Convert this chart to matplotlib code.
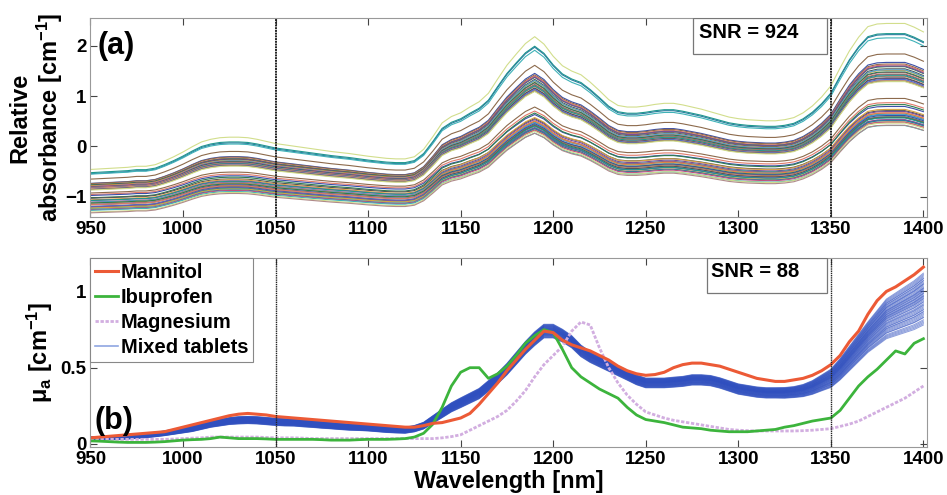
import numpy as np
import matplotlib.pyplot as plt
from matplotlib.patches import Rectangle

plt.rcParams['font.family'] = ['Liberation Sans', 'DejaVu Sans']
plt.rcParams['font.weight'] = 'bold'
plt.rcParams['mathtext.fontset'] = 'custom'
plt.rcParams['mathtext.rm'] = 'Liberation Sans:bold'
plt.rcParams['mathtext.it'] = 'Liberation Sans:bold'
plt.rcParams['mathtext.bf'] = 'Liberation Sans:bold'

# wavelength grid [nm]
wavelength = np.arange(950, 1401, 5)

# (a) reference spectrum (upper teal trace)
top_reference = [-0.52, -0.51, -0.50, -0.49, -0.48, -0.46, -0.46, -0.43, -0.36, -0.28,
                 -0.19, -0.09, 0.00, 0.05, 0.08, 0.09, 0.09, 0.08, 0.05, 0.01,
                 -0.03, -0.055, -0.08, -0.105, -0.13, -0.155, -0.18, -0.20, -0.22, -0.245,
                 -0.27, -0.29, -0.31, -0.32, -0.32, -0.28, -0.14, 0.10, 0.36, 0.48,
                 0.55, 0.66, 0.76, 0.92, 1.19, 1.45, 1.66, 1.86, 1.99, 1.85,
                 1.62, 1.44, 1.34, 1.27, 1.13, 0.97, 0.80, 0.69, 0.66, 0.66,
                 0.68, 0.71, 0.73, 0.73, 0.70, 0.66, 0.62, 0.57, 0.52, 0.47,
                 0.44, 0.42, 0.41, 0.40, 0.40, 0.42, 0.46, 0.55, 0.68, 0.85,
                 1.06, 1.40, 1.72, 1.98, 2.18, 2.23, 2.24, 2.24, 2.24, 2.17,
                 2.08]

# per-sample gain / offset relative to the reference trace (estimated from the plot)
sample_gain = [1.05, 1.00, 1.00, 0.98, 0.90,
               0.87, 0.86, 0.86, 0.85, 0.86, 0.84, 0.83, 0.84, 0.82, 0.83,
               0.81, 0.82, 0.80, 0.81, 0.79, 0.80, 0.78, 0.79, 0.78, 0.78,
               0.68, 0.66, 0.64, 0.67, 0.63, 0.65, 0.64, 0.62, 0.64, 0.63,
               0.65, 0.62, 0.64, 0.63, 0.61, 0.64, 0.62, 0.63, 0.65, 0.62,
               0.64, 0.63, 0.61, 0.64, 0.63]
sample_offset = [0.09, 0.00, -0.02, -0.04, -0.18,
                 -0.28, -0.29, -0.31, -0.32, -0.33, -0.34, -0.35, -0.36, -0.37, -0.38,
                 -0.39, -0.40, -0.40, -0.41, -0.42, -0.43, -0.43, -0.44, -0.45, -0.46,
                 -0.57, -0.61, -0.64, -0.67, -0.70, -0.72, -0.74, -0.75, -0.77, -0.78,
                 -0.79, -0.80, -0.82, -0.83, -0.84, -0.86, -0.87, -0.88, -0.89, -0.90,
                 -0.92, -0.93, -0.95, -0.97, -0.99]
sample_color = ['#d2de8c', '#1f9a8c', '#2a7f9e', '#3fb2b8', '#8c6a4c',
                '#3b4fa8', '#8c6a4c', '#e07a6a', '#2e7d4f', '#7a4f9a', '#555555', '#d9a441',
                '#4fa0d0', '#c05080', '#2e7d4f', '#3b4fa8', '#9a7a5a', '#e07a6a', '#1f9a8c',
                '#7a4f9a', '#555555', '#e8a070', '#4f6fd0', '#8c6a4c', '#cfdc8a',
                '#8c6a4c', '#e07a6a', '#3b4fa8', '#2e7d4f', '#555555', '#d9a441', '#7a4f9a',
                '#1f9a8c', '#c05080', '#4fa0d0', '#e08a40', '#2e7d4f', '#3b4fa8', '#9a7a5a',
                '#e07a6a', '#555555', '#4f6fd0', '#7a4f9a', '#1f9a8c', '#d9a441', '#2a7f9e',
                '#c05080', '#3fb2b8', '#cfdc8a', '#b08a8a']

# (b) reference absorption spectra
mannitol = [0.04, 0.045, 0.05, 0.055, 0.06, 0.065, 0.07, 0.075, 0.08, 0.095,
            0.11, 0.125, 0.14, 0.155, 0.17, 0.185, 0.195, 0.2, 0.195, 0.19,
            0.18, 0.175, 0.17, 0.165, 0.16, 0.155, 0.15, 0.145, 0.14, 0.135,
            0.13, 0.125, 0.12, 0.115, 0.11, 0.11, 0.12, 0.135, 0.14, 0.155,
            0.17, 0.20, 0.26, 0.33, 0.40, 0.48, 0.55, 0.62, 0.68, 0.74,
            0.73, 0.68, 0.65, 0.63, 0.61, 0.58, 0.55, 0.51, 0.48, 0.46,
            0.45, 0.455, 0.47, 0.50, 0.52, 0.53, 0.53, 0.52, 0.51, 0.49,
            0.47, 0.45, 0.43, 0.42, 0.41, 0.41, 0.42, 0.43, 0.45, 0.48,
            0.52, 0.58, 0.67, 0.74, 0.85, 0.94, 1.00, 1.03, 1.07, 1.11,
            1.16]
ibuprofen = [0.02, 0.018, 0.015, 0.012, 0.01, 0.01, 0.01, 0.012, 0.015, 0.02,
             0.025, 0.028, 0.03, 0.035, 0.045, 0.04, 0.035, 0.035, 0.035, 0.033,
             0.03, 0.03, 0.03, 0.03, 0.03, 0.028, 0.025, 0.025, 0.025, 0.028,
             0.03, 0.03, 0.03, 0.032, 0.035, 0.045, 0.07, 0.13, 0.24, 0.38,
             0.47, 0.50, 0.50, 0.43, 0.46, 0.51, 0.58, 0.66, 0.71, 0.75,
             0.73, 0.62, 0.50, 0.44, 0.40, 0.36, 0.33, 0.30, 0.24, 0.19,
             0.16, 0.15, 0.14, 0.125, 0.11, 0.105, 0.10, 0.09, 0.085, 0.08,
             0.08, 0.08, 0.085, 0.09, 0.095, 0.11, 0.12, 0.135, 0.15, 0.16,
             0.17, 0.22, 0.30, 0.38, 0.44, 0.49, 0.55, 0.61, 0.59, 0.66,
             0.69]
magnesium = [0.03, 0.03, 0.03, 0.03, 0.03, 0.03, 0.03, 0.03, 0.03, 0.032,
             0.035, 0.038, 0.04, 0.045, 0.045, 0.045, 0.045, 0.045, 0.045, 0.042,
             0.04, 0.04, 0.04, 0.038, 0.035, 0.035, 0.035, 0.035, 0.035, 0.035,
             0.035, 0.035, 0.035, 0.035, 0.035, 0.035, 0.035, 0.035, 0.04, 0.048,
             0.06, 0.09, 0.12, 0.15, 0.18, 0.22, 0.28, 0.35, 0.44, 0.52,
             0.58, 0.64, 0.74, 0.80, 0.78, 0.63, 0.50, 0.40, 0.32, 0.26,
             0.21, 0.19, 0.17, 0.155, 0.145, 0.135, 0.125, 0.115, 0.105, 0.095,
             0.09, 0.087, 0.085, 0.085, 0.085, 0.085, 0.085, 0.087, 0.09, 0.095,
             0.10, 0.115, 0.13, 0.15, 0.18, 0.21, 0.24, 0.27, 0.30, 0.34,
             0.38]
mixed_mean = [0.035, 0.037, 0.04, 0.042, 0.045, 0.05, 0.055, 0.062, 0.07, 0.08,
              0.09, 0.10, 0.115, 0.13, 0.14, 0.15, 0.155, 0.157, 0.155, 0.15,
              0.145, 0.142, 0.14, 0.135, 0.13, 0.125, 0.12, 0.115, 0.11, 0.108,
              0.105, 0.10, 0.095, 0.092, 0.09, 0.10, 0.12, 0.16, 0.20, 0.24,
              0.27, 0.30, 0.33, 0.38, 0.43, 0.49, 0.56, 0.63, 0.69, 0.74,
              0.74, 0.71, 0.67, 0.61, 0.57, 0.54, 0.51, 0.48, 0.45, 0.42,
              0.40, 0.40, 0.40, 0.405, 0.41, 0.42, 0.42, 0.415, 0.40, 0.38,
              0.36, 0.35, 0.34, 0.335, 0.335, 0.335, 0.34, 0.35, 0.37, 0.40,
              0.43, 0.49, 0.56, 0.63, 0.70, 0.76, 0.82, 0.85, 0.88, 0.91,
              0.95]
mixed_halfwidth = [0.012, 0.012, 0.012, 0.013, 0.013, 0.014, 0.014, 0.015, 0.016, 0.017,
                   0.018, 0.019, 0.02, 0.021, 0.022, 0.023, 0.024, 0.024, 0.024, 0.024,
                   0.024, 0.024, 0.023, 0.023, 0.022, 0.022, 0.021, 0.021, 0.02, 0.02,
                   0.02, 0.02, 0.02, 0.02, 0.02, 0.021, 0.022, 0.025, 0.028, 0.03,
                   0.032, 0.033, 0.034, 0.035, 0.036, 0.038, 0.04, 0.042, 0.045, 0.045,
                   0.045, 0.042, 0.04, 0.038, 0.036, 0.035, 0.034, 0.033, 0.032, 0.032,
                   0.032, 0.032, 0.032, 0.033, 0.033, 0.034, 0.034, 0.034, 0.034, 0.034,
                   0.034, 0.034, 0.034, 0.034, 0.034, 0.035, 0.036, 0.04, 0.045, 0.052,
                   0.06, 0.07, 0.08, 0.09, 0.10, 0.115, 0.13, 0.14, 0.15, 0.16,
                   0.17]
# position of each tablet inside the band (-1 = lower edge, 1 = upper edge)
mixed_position = [-1.0, -0.95, -0.9, -0.85, -0.8, -0.72, -0.7, -0.65, -0.6, -0.55,
                  -0.5, -0.48, -0.42, -0.4, -0.35, -0.3, -0.25, -0.22, -0.18, -0.12,
                  -0.1, -0.05, 0.0, 0.02, 0.06, 0.1, 0.12, 0.15, 0.2, 0.22,
                  0.25, 0.3, 0.32, 0.36, 0.4, 0.42, 0.45, 0.5, 0.55, 0.58,
                  0.6, 0.65, 0.7, 0.72, 0.78, 0.8, 0.85, 0.9, 0.95, 1.0]

fig = plt.figure(figsize=(9.47, 4.95), dpi=100, facecolor='white')
ax1 = fig.add_axes([0.0955, 0.5616, 0.8835, 0.402])
ax2 = fig.add_axes([0.0955, 0.097, 0.8835, 0.382])

ref = np.array(top_reference)
for g, o, c in zip(sample_gain, sample_offset, sample_color):
    ax1.plot(wavelength, g * ref + o, color=c, lw=0.8)

mean = np.array(mixed_mean)
hw = np.array(mixed_halfwidth)
for p in mixed_position:
    ax2.plot(wavelength, mean + p * hw, color='#2f4fbf', lw=0.7, alpha=0.55)
ax2.plot(wavelength, magnesium, color='#d2aee0', lw=2.0, linestyle=(0, (1.2, 0.6)))
ax2.plot(wavelength, ibuprofen, color='#3cb43c', lw=2.0)
ax2.plot(wavelength, mannitol, color='#ec5a36', lw=2.2)

ax1.set_ylim(-1.4, 2.55)
ax2.set_ylim(-0.02, 1.22)
ax1.set_yticks([-1, 0, 1, 2])
ax2.set_yticks([0, 0.5, 1])
ax2.set_yticklabels(['0', '0.5', '1'])

for ax in (ax1, ax2):
    ax.set_xlim(950, 1402)
    ax.set_xticks(np.arange(950, 1401, 50))
    ax.tick_params(direction='in', top=True, right=True, length=5, width=0.8,
                   labelsize=13.5, pad=3, color='#444444')
    for lab in ax.get_xticklabels() + ax.get_yticklabels():
        lab.set_fontweight('bold')
    for s in ax.spines.values():
        s.set_color('#999999')
        s.set_linewidth(0.8)

ax1.axvline(1050, color='#222222', lw=1.4, linestyle=(0, (1, 0.4)))
ax1.axvline(1350, color='#222222', lw=1.4, linestyle=(0, (1, 0.4)))
ax2.axvline(1050, color='#222222', lw=1.0, linestyle=(0, (1, 0.6)))
ax2.axvline(1350, color='#222222', lw=1.0, linestyle=(0, (1, 0.6)))

ax1.set_ylabel('Relative\nabsorbance [cm$^{-1}$]', fontsize=17, fontweight='bold',
               linespacing=1.15, labelpad=0)
ax2.set_ylabel('\u03bc$_{a}$ [cm$^{-1}$]', fontsize=17, fontweight='bold', labelpad=4)
ax2.set_xlabel('Wavelength [nm]', fontsize=17, fontweight='bold', labelpad=1)

ax1.text(0.009, 0.86, '(a)', transform=ax1.transAxes, fontsize=22,
         fontweight='bold', va='center', ha='left')
ax2.text(0.005, 0.14, '(b)', transform=ax2.transAxes, fontsize=22,
         fontweight='bold', va='center', ha='left')

ax1.add_patch(Rectangle((0.720, 0.819), 0.160, 0.181, transform=ax1.transAxes,
                        facecolor='white', edgecolor='#777777', lw=0.9, zorder=5))
ax1.text(0.727, 0.925, 'SNR = 924', transform=ax1.transAxes, fontsize=14.5,
         fontweight='bold', va='center', ha='left', zorder=6)
ax2.add_patch(Rectangle((0.737, 0.815), 0.1435, 0.185, transform=ax2.transAxes,
                        facecolor='white', edgecolor='#777777', lw=0.9, zorder=5))
ax2.text(0.742, 0.928, 'SNR = 88', transform=ax2.transAxes, fontsize=14.5,
         fontweight='bold', va='center', ha='left', zorder=6)

handles = [
    plt.Line2D([], [], color='#ec5a36', lw=2.2),
    plt.Line2D([], [], color='#3cb43c', lw=2.0),
    plt.Line2D([], [], color='#d2aee0', lw=2.0, linestyle=(0, (1.2, 0.6))),
    plt.Line2D([], [], color='#8fa6e2', lw=1.2),
]
leg = ax2.legend(handles, ['Mannitol', 'Ibuprofen', 'Magnesium', 'Mixed tablets'],
                 loc='upper left', borderaxespad=0, fancybox=False,
                 prop={'size': 14.5, 'weight': 'bold'}, handlelength=1.1,
                 handletextpad=0.15, labelspacing=0.3, borderpad=0.25, framealpha=1)
leg.get_frame().set_edgecolor('#888888')
leg.get_frame().set_linewidth(0.8)

fig.savefig('out.png', dpi=100, facecolor='white')
